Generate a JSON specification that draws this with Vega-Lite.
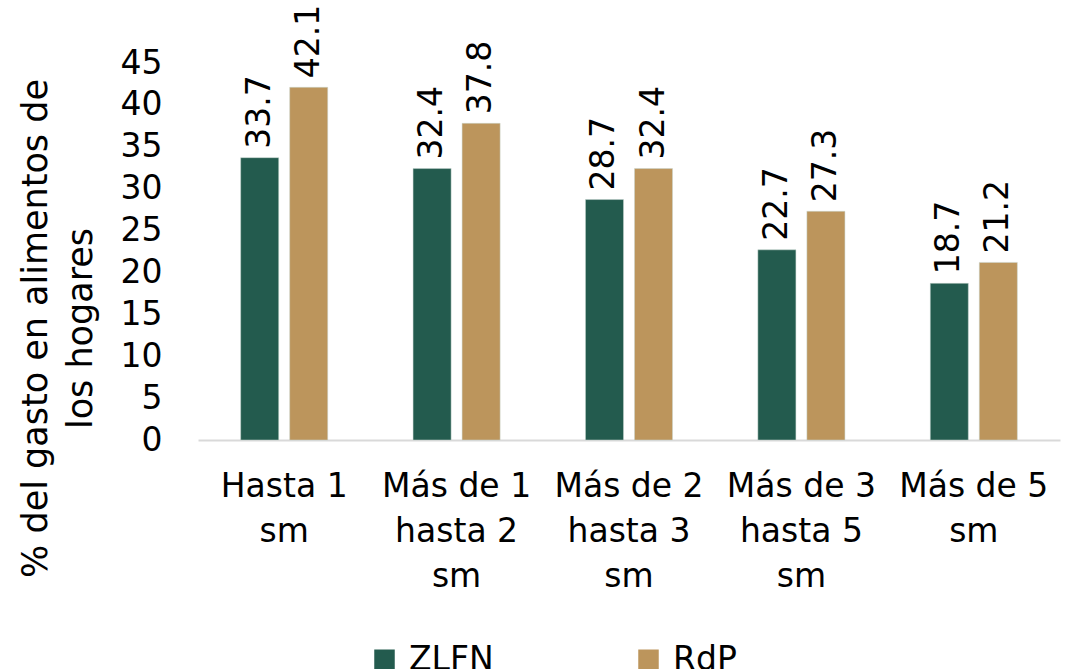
{
  "$schema": "https://vega.github.io/schema/vega-lite/v6.json",
  "width": 862,
  "height": 377,
  "autosize": "none",
  "padding": {"left": 198, "top": 63, "right": 6, "bottom": 229},
  "background": "white",
  "config": {
    "font": "DejaVu Sans",
    "view": {"stroke": null},
    "axis": {"labelFont": "DejaVu Sans", "titleFont": "DejaVu Sans", "labelColor": "#000000", "titleColor": "#000000", "grid": false, "ticks": false}
  },
  "data": {
    "values": [
      {"cat": "Hasta 1 sm", "serie": "ZLFN", "v": 33.7},
      {"cat": "Hasta 1 sm", "serie": "RdP", "v": 42.1},
      {"cat": "Más de 1 hasta 2 sm", "serie": "ZLFN", "v": 32.4},
      {"cat": "Más de 1 hasta 2 sm", "serie": "RdP", "v": 37.8},
      {"cat": "Más de 2 hasta 3 sm", "serie": "ZLFN", "v": 28.7},
      {"cat": "Más de 2 hasta 3 sm", "serie": "RdP", "v": 32.4},
      {"cat": "Más de 3 hasta 5 sm", "serie": "ZLFN", "v": 22.7},
      {"cat": "Más de 3 hasta 5 sm", "serie": "RdP", "v": 27.3},
      {"cat": "Más de 5 sm", "serie": "ZLFN", "v": 18.7},
      {"cat": "Más de 5 sm", "serie": "RdP", "v": 21.2}
    ]
  },
  "encoding": {
    "x": {
      "field": "cat", "type": "nominal", "sort": null,
      "scale": {"paddingInner": 0.495, "paddingOuter": 0.2475},
      "axis": {
        "title": null, "labelAngle": 0, "labelFontSize": 33, "labelPadding": 30,
        "labelLineHeight": 45, "labelBaseline": "top",
        "labelExpr": "datum.value == 'Hasta 1 sm' ? ['Hasta 1','sm'] : datum.value == 'Más de 5 sm' ? ['Más de 5','sm'] : [slice(datum.value, 0, 8), slice(datum.value, 9, 16), 'sm']",
        "domainColor": "#d9d9d9", "domainWidth": 2
      }
    },
    "xOffset": {"field": "serie", "type": "nominal", "sort": ["ZLFN", "RdP"], "scale": {"paddingInner": 0.224, "paddingOuter": 0}},
    "y": {
      "field": "v", "type": "quantitative",
      "scale": {"domain": [0, 45]},
      "axis": {
        "values": [0, 5, 10, 15, 20, 25, 30, 35, 40, 45],
        "domain": false, "labelFontSize": 33, "labelPadding": 36,
        "title": ["% del gasto en alimentos de", "los hogares"],
        "titleFontSize": 35, "titleFontWeight": "normal", "titleAngle": 270,
        "titleX": -180, "titleY": 265, "titleAlign": "center", "titleBaseline": "top", "titleLineHeight": 45
      }
    }
  },
  "layer": [
    {
      "mark": {"type": "bar", "stroke": "#c8d6d0", "strokeWidth": 0.5},
      "encoding": {
        "color": {
          "field": "serie", "type": "nominal", "sort": ["ZLFN", "RdP"],
          "scale": {"domain": ["ZLFN", "RdP"], "range": ["#235B4E", "#BC955C"]},
          "legend": {
            "title": null, "orient": "none", "direction": "horizontal",
            "legendX": 170, "legendY": 580, "symbolType": "square", "symbolSize": 420,
            "symbolStrokeWidth": 0, "labelFontSize": 33, "labelColor": "#000000",
            "columnPadding": 138, "labelOffset": 8
          }
        }
      }
    },
    {
      "mark": {"type": "text", "angle": 270, "align": "left", "baseline": "middle", "dx": 9, "fontSize": 33, "color": "#000000"},
      "encoding": {"text": {"field": "v", "type": "quantitative", "format": ".1f"}}
    }
  ]
}
